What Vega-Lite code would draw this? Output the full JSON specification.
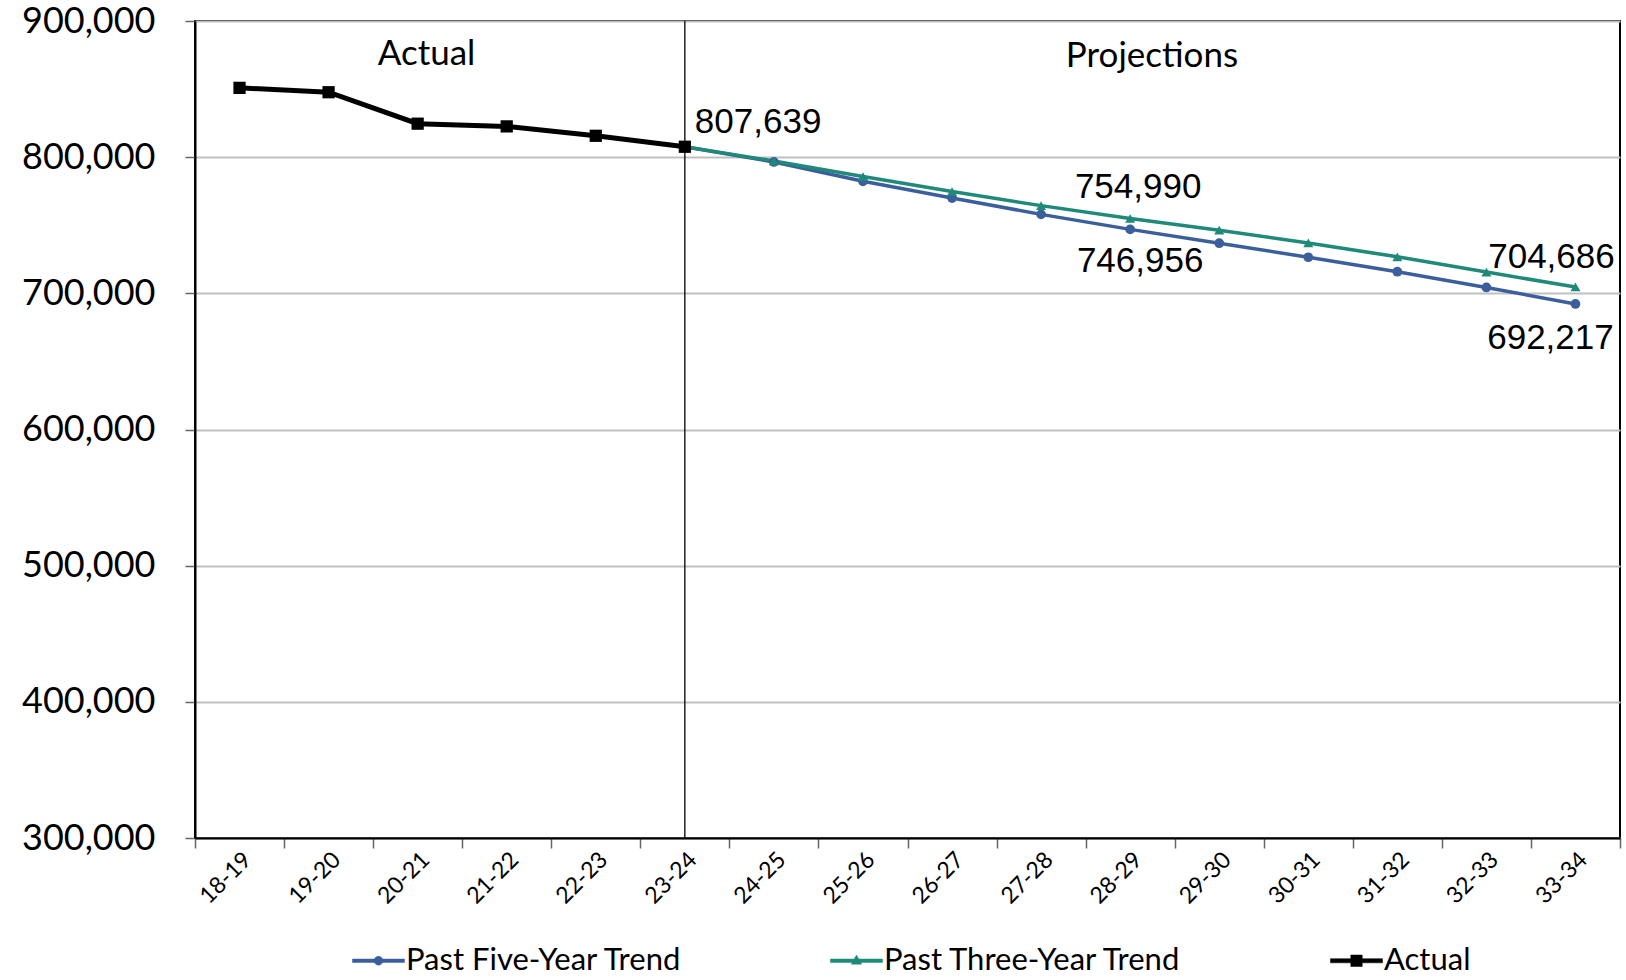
{
  "$schema": "https://vega.github.io/schema/vega-lite/v6.json",
  "width": 1425,
  "height": 817,
  "autosize": {"type": "none"},
  "padding": {"left": 195, "top": 21, "right": 6, "bottom": 142},
  "background": "white",
  "config": {
    "view": {"stroke": "black", "strokeWidth": 2},
    "font": "Lato",
    "axis": {"labelColor": "black", "titleColor": "black"}
  },
  "datasets": {
    "notes": [
      {"year": "20-21", "label": "Actual", "value": 876000},
      {"year": "28-29", "label": "Projections", "value": 874000}
    ]
  },
  "data": {
    "values": [
      {"year": "18-19", "series": "Actual", "value": 850900},
      {"year": "19-20", "series": "Actual", "value": 847700},
      {"year": "20-21", "series": "Actual", "value": 824600},
      {"year": "21-22", "series": "Actual", "value": 822600},
      {"year": "22-23", "series": "Actual", "value": 815700},
      {"year": "23-24", "series": "Actual", "value": 807639},
      {"year": "23-24", "series": "Past Five-Year Trend", "value": 807639},
      {"year": "24-25", "series": "Past Five-Year Trend", "value": 796500},
      {"year": "25-26", "series": "Past Five-Year Trend", "value": 782300},
      {"year": "26-27", "series": "Past Five-Year Trend", "value": 770000},
      {"year": "27-28", "series": "Past Five-Year Trend", "value": 758000},
      {"year": "28-29", "series": "Past Five-Year Trend", "value": 746956},
      {"year": "29-30", "series": "Past Five-Year Trend", "value": 736800},
      {"year": "30-31", "series": "Past Five-Year Trend", "value": 726500},
      {"year": "31-32", "series": "Past Five-Year Trend", "value": 715900},
      {"year": "32-33", "series": "Past Five-Year Trend", "value": 704300},
      {"year": "33-34", "series": "Past Five-Year Trend", "value": 692217},
      {"year": "23-24", "series": "Past Three-Year Trend", "value": 807639},
      {"year": "24-25", "series": "Past Three-Year Trend", "value": 797200},
      {"year": "25-26", "series": "Past Three-Year Trend", "value": 785800},
      {"year": "26-27", "series": "Past Three-Year Trend", "value": 774800},
      {"year": "27-28", "series": "Past Three-Year Trend", "value": 764400},
      {"year": "28-29", "series": "Past Three-Year Trend", "value": 754990},
      {"year": "29-30", "series": "Past Three-Year Trend", "value": 746400},
      {"year": "30-31", "series": "Past Three-Year Trend", "value": 737000},
      {"year": "31-32", "series": "Past Three-Year Trend", "value": 726800},
      {"year": "32-33", "series": "Past Three-Year Trend", "value": 715600},
      {"year": "33-34", "series": "Past Three-Year Trend", "value": 704686}
    ]
  },
  "encoding": {
    "x": {
      "field": "year",
      "type": "ordinal",
      "bandPosition": 0.5,
      "scale": {
        "type": "band",
        "paddingInner": 0,
        "paddingOuter": 0,
        "domain": ["18-19","19-20","20-21","21-22","22-23","23-24","24-25","25-26","26-27","27-28","28-29","29-30","30-31","31-32","32-33","33-34"]
      },
      "axis": {
        "title": null,
        "labelAngle": -45,
        "labelFont": "Lato",
        "labelFontSize": 23,
        "labelPadding": 0,
        "tickBand": "extent",
        "tickSize": 10,
        "tickColor": "#666666",
        "tickWidth": 1.5,
        "domainColor": "black",
        "domainWidth": 2,
        "grid": false
      }
    },
    "y": {
      "field": "value",
      "type": "quantitative",
      "scale": {"domain": [300000, 900000], "nice": false, "zero": false},
      "axis": {
        "title": null,
        "values": [300000, 400000, 500000, 600000, 700000, 800000, 900000],
        "format": ",.0f",
        "labelFont": "Lato",
        "labelFontSize": 36,
        "labelPadding": 30,
        "tickSize": 10,
        "tickColor": "#666666",
        "tickWidth": 1.5,
        "domainColor": "black",
        "domainWidth": 2,
        "grid": true,
        "gridColor": "#c0c0c0",
        "gridWidth": 2
      }
    },
    "color": {
      "field": "series",
      "type": "nominal",
      "scale": {
        "domain": ["Past Five-Year Trend", "Past Three-Year Trend", "Actual"],
        "range": ["#3b5f9c", "#1f8a79", "#000000"]
      },
      "legend": {
        "orient": "none",
        "legendX": 157,
        "legendY": 913,
        "direction": "horizontal",
        "title": null,
        "labelFont": "Lato",
        "labelFontSize": 31,
        "labelColor": "black",
        "labelLimit": 500,
        "labelOffset": 1,
        "symbolSize": 2704,
        "columnPadding": 147,
        "encode": {
          "symbols": {
            "update": {
              "shape": {"signal": "datum.value == 'Actual' ? 'M-1,-0.08H1V0.08H-1Z M-0.22,-0.22H0.22V0.22H-0.22Z' : datum.value == 'Past Five-Year Trend' ? 'M-1,-0.065H1V0.065H-1Z M0.17,0 A0.17,0.17 0 1,1 -0.17,0 A0.17,0.17 0 1,1 0.17,0Z' : 'M-1,-0.065H1V0.065H-1Z M0,-0.22 L0.2,0.13 L-0.2,0.13Z'"},
              "fill": {"signal": "datum.value == 'Actual' ? '#000000' : datum.value == 'Past Five-Year Trend' ? '#3b5f9c' : '#1f8a79'"},
              "stroke": {"signal": "datum.value == 'Actual' ? '#000000' : datum.value == 'Past Five-Year Trend' ? '#3b5f9c' : '#1f8a79'"},
              "strokeWidth": {"value": 0.5},
              "opacity": {"value": 1},
              "fillOpacity": {"value": 1}
            }
          }
        }
      }
    }
  },
  "layer": [
    {
      "transform": [{"filter": "datum.series != 'Actual'"}],
      "mark": {"type": "line", "strokeWidth": 3.5}
    },
    {
      "transform": [{"filter": "datum.series == 'Past Five-Year Trend'"}],
      "mark": {"type": "point", "filled": true, "shape": "circle", "size": 95, "opacity": 1}
    },
    {
      "transform": [{"filter": "datum.series == 'Past Three-Year Trend'"}],
      "mark": {"type": "point", "filled": true, "shape": "triangle-up", "size": 100, "opacity": 1}
    },
    {
      "transform": [{"filter": "datum.series == 'Actual'"}],
      "mark": {"type": "line", "strokeWidth": 5}
    },
    {
      "transform": [{"filter": "datum.series == 'Actual'"}],
      "mark": {"type": "point", "filled": true, "shape": "square", "size": 150, "opacity": 1}
    },
    {
      "transform": [{"filter": "datum.series == 'Actual' && datum.year == '23-24'"}],
      "mark": {"type": "rule", "color": "black", "strokeWidth": 1.3},
      "encoding": {
        "y": null,
        "color": null
      }
    },
    {
      "data": {"name": "notes"},
      "transform": [{"filter": "datum.label == 'Actual'"}],
      "mark": {"type": "text", "font": "Lato", "fontSize": 35, "color": "black", "align": "center", "baseline": "middle"},
      "encoding": {
        "x": {"field": "year", "type": "ordinal", "bandPosition": 0.6},
        "text": {"field": "label"},
        "color": null
      }
    },
    {
      "data": {"name": "notes"},
      "transform": [{"filter": "datum.label == 'Projections'"}],
      "mark": {"type": "text", "font": "Lato", "fontSize": 35, "color": "black", "align": "center", "baseline": "middle"},
      "encoding": {
        "x": {"field": "year", "type": "ordinal", "bandPosition": 0.745},
        "text": {"field": "label"},
        "color": null
      }
    },
    {
      "transform": [{"filter": "datum.series == 'Actual' && datum.year == '23-24'"}],
      "mark": {"type": "text", "font": "Liberation Sans", "fontSize": 35, "color": "black", "align": "left", "baseline": "middle", "dx": 10, "dy": -25},
      "encoding": {"text": {"field": "value", "format": ","}, "color": null}
    },
    {
      "transform": [{"filter": "datum.series == 'Past Three-Year Trend' && datum.year == '28-29'"}],
      "mark": {"type": "text", "font": "Liberation Sans", "fontSize": 35, "color": "black", "align": "center", "baseline": "middle", "dx": 8, "dy": -31},
      "encoding": {"text": {"field": "value", "format": ","}, "color": null}
    },
    {
      "transform": [{"filter": "datum.series == 'Past Five-Year Trend' && datum.year == '28-29'"}],
      "mark": {"type": "text", "font": "Liberation Sans", "fontSize": 35, "color": "black", "align": "center", "baseline": "middle", "dx": 10, "dy": 32},
      "encoding": {"text": {"field": "value", "format": ","}, "color": null}
    },
    {
      "transform": [{"filter": "datum.series == 'Past Three-Year Trend' && datum.year == '33-34'"}],
      "mark": {"type": "text", "font": "Liberation Sans", "fontSize": 35, "color": "black", "align": "center", "baseline": "middle", "dx": -24, "dy": -30},
      "encoding": {"text": {"field": "value", "format": ","}, "color": null}
    },
    {
      "transform": [{"filter": "datum.series == 'Past Five-Year Trend' && datum.year == '33-34'"}],
      "mark": {"type": "text", "font": "Liberation Sans", "fontSize": 35, "color": "black", "align": "center", "baseline": "middle", "dx": -25, "dy": 34},
      "encoding": {"text": {"field": "value", "format": ","}, "color": null}
    }
  ]
}
